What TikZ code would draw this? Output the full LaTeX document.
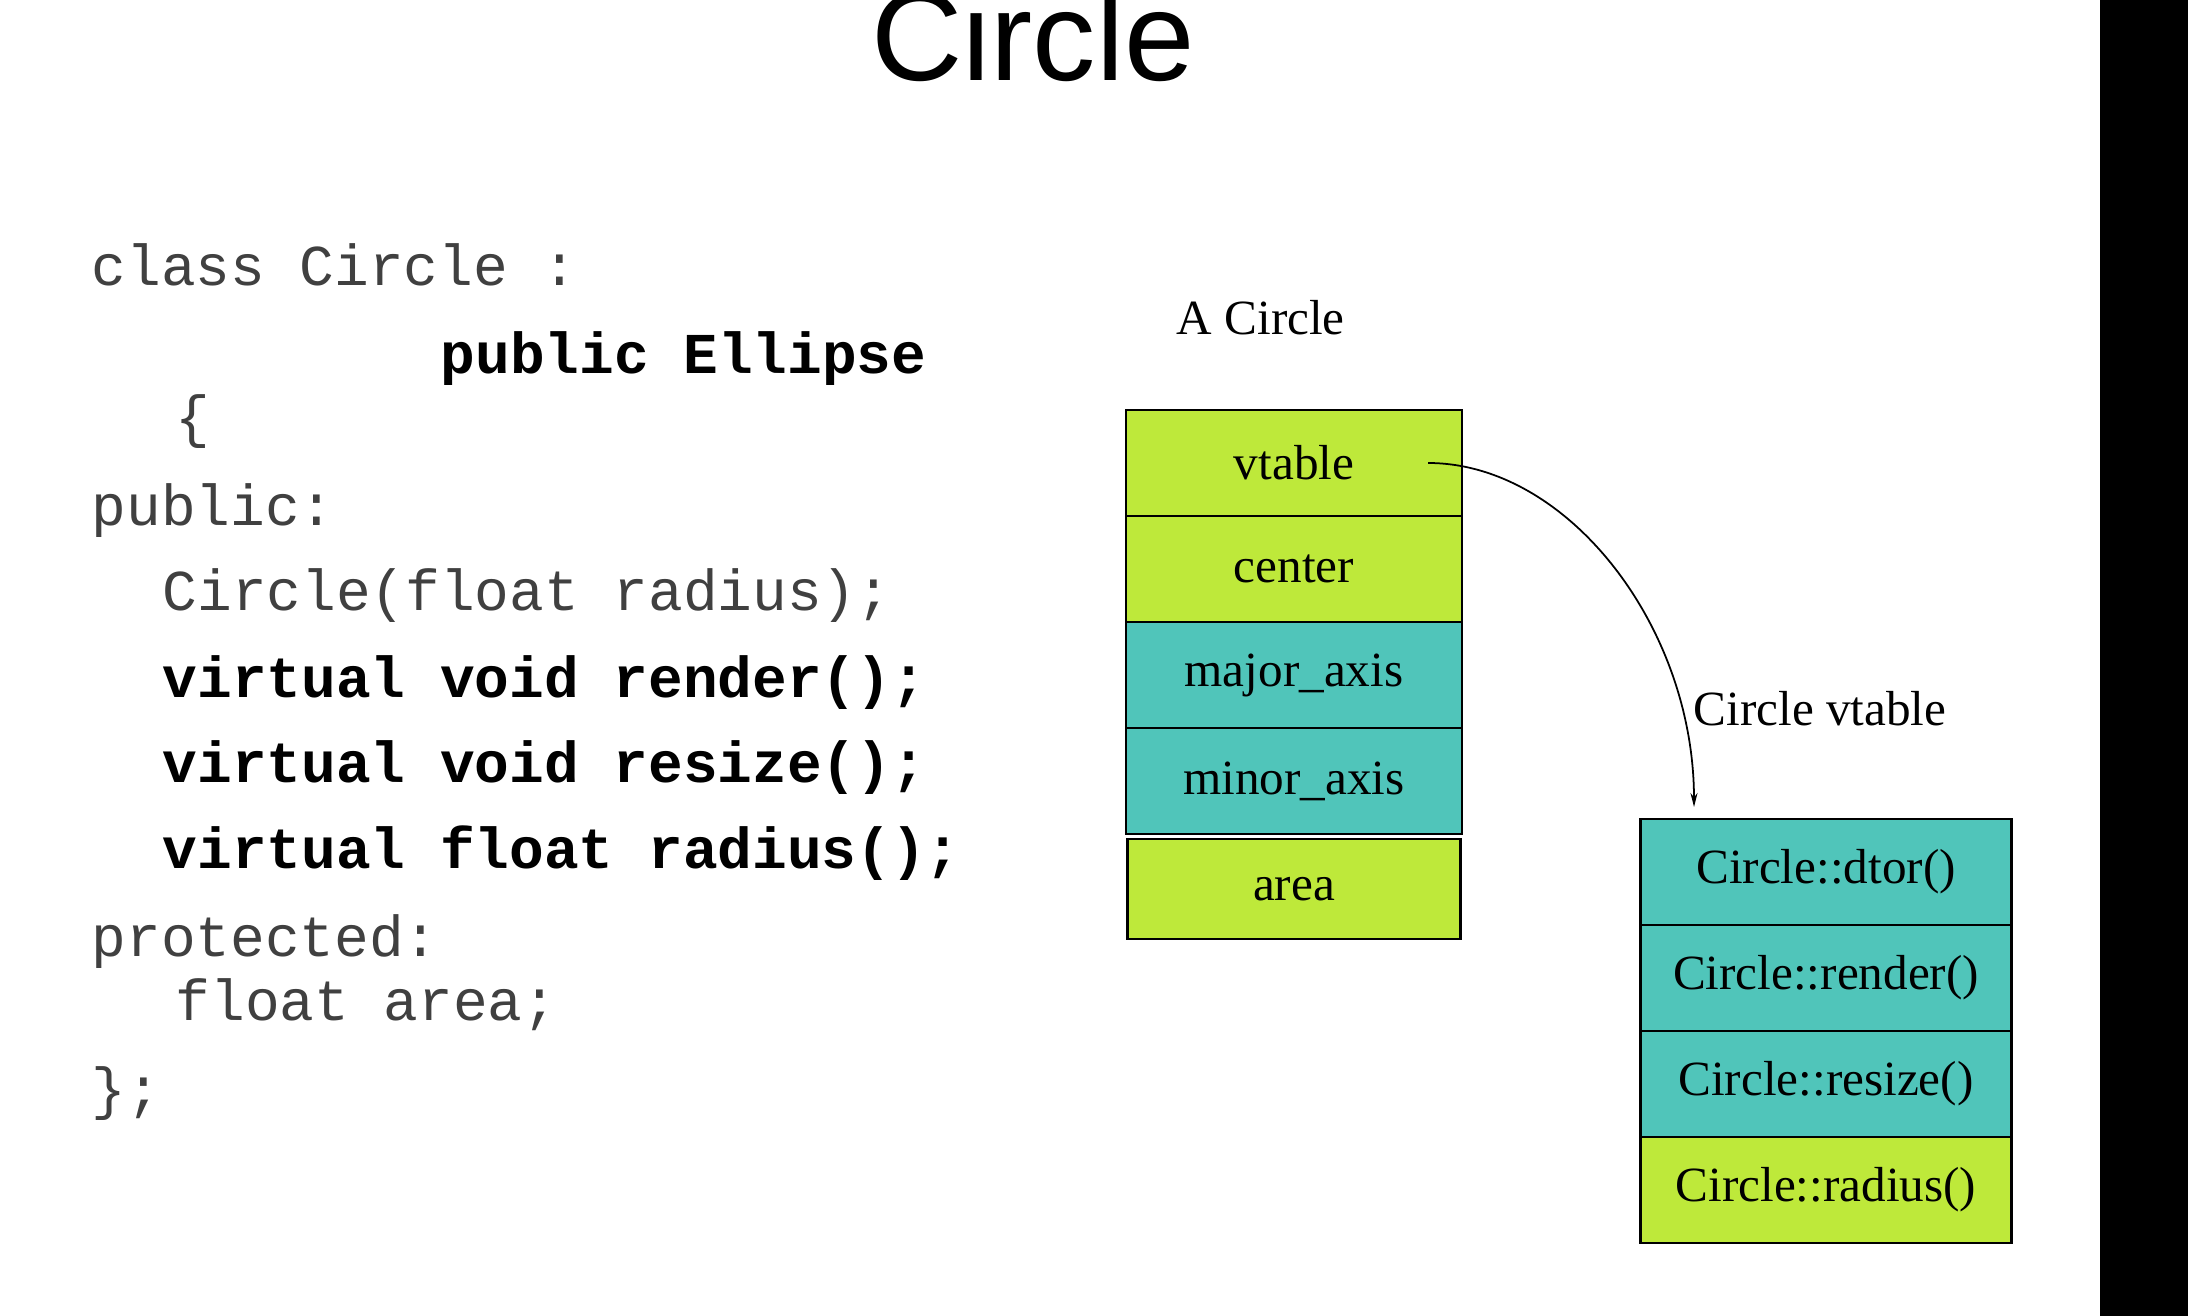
\documentclass[tikz,border=0pt]{standalone}
\usepackage{fontspec}
\setmainfont{Liberation Serif}
\setsansfont{Liberation Sans}
\setmonofont{Liberation Mono}
\usepackage{tikz}
\usepackage{xcolor}
\usetikzlibrary{arrows.meta, positioning, calc}

\definecolor{limecell}{RGB}{190,233,58}
\definecolor{tealcell}{RGB}{80,197,186}
\definecolor{codegray}{RGB}{64,64,64}

\begin{document}
\begin{tikzpicture}[x=0.1mm, y=-0.1mm,
    codeline/.style={anchor=base west, inner sep=0pt, text=codegray,
        font=\ttfamily\fontsize{16.45}{18}\selectfont},
    codebold/.style={codeline, text=black,
        font=\ttfamily\bfseries\fontsize{16.45}{18}\selectfont},
    label/.style={anchor=base west, inner sep=0pt, font=\fontsize{14}{16}\selectfont},
    objcell/.style={draw=black, line width=0.8pt, outer sep=0pt, minimum width=33.6mm,
        minimum height=10.6mm, inner sep=0pt, font=\fontsize{14}{16}\selectfont},
    vtcell/.style={objcell, minimum width=37.1mm}]
\useasboundingbox (0,0) rectangle (2188,1316);
\fill[white] (0,0) rectangle (2188,1316);
\fill[black] (2100,0) rectangle (2188,1316);

% Title
\node[anchor=base, inner sep=0pt, font=\sffamily\fontsize{36}{40}\selectfont] (title) at (1033,81) {Circle};

% Class declaration
\node[codeline] (l1) at (91,286) {class Circle :};
\node[codebold] (l2) at (440,374) {public Ellipse};
\node[codeline] (l3) at (175,437) {\{};
\node[codeline] (l4) at (91,526) {public:};
\node[codeline] (l5) at (162,611) {Circle(float radius);};
\node[codebold] (l6) at (162,698) {virtual void render();};
\node[codebold] (l7) at (162,783) {virtual void resize();};
\node[codebold] (l8) at (162,869) {virtual float radius();};
\node[codeline] (l9) at (91,957) {protected:};
\node[codeline] (l10) at (175,1021) {float area;};
\node[codeline] (l11) at (91,1109) {\};};

% Object layout
\node[label] (objname) at (1176,335) {A Circle};
\node[objcell, fill=limecell] (vtable) at (1294,463) {vtable};
\node[objcell, fill=limecell, below=0pt of vtable] (center) {center};
\node[objcell, fill=tealcell, below=0pt of center] (major) {major\_axis};
\node[objcell, fill=tealcell, below=0pt of major] (minor) {minor\_axis};
\node[objcell, fill=limecell, minimum width=33.3mm, minimum height=10mm, below=0.5mm of minor] (area) {area};

% Virtual table
\node[label] (vtname) at (1693,726) {Circle vtable};
\node[vtcell, fill=tealcell] (dtor) at (1826,872) {Circle::dtor()};
\node[vtcell, fill=tealcell, below=0pt of dtor] (render) {Circle::render()};
\node[vtcell, fill=tealcell, below=0pt of render] (resize) {Circle::resize()};
\node[vtcell, fill=limecell, below=0pt of resize] (radius) {Circle::radius()};

% Pointer to the vtable
\coordinate (vptr) at ([xshift=-3.4mm]vtable.east);
\coordinate (vtarget) at ([xshift=-13.2mm, yshift=1.2mm]dtor.north);
\draw[line width=0.5pt, -{Stealth[length=4pt, width=2pt]}] (vptr) .. controls +(14mm,0) and +(0,18mm) .. (vtarget);
\end{tikzpicture}
\end{document}
